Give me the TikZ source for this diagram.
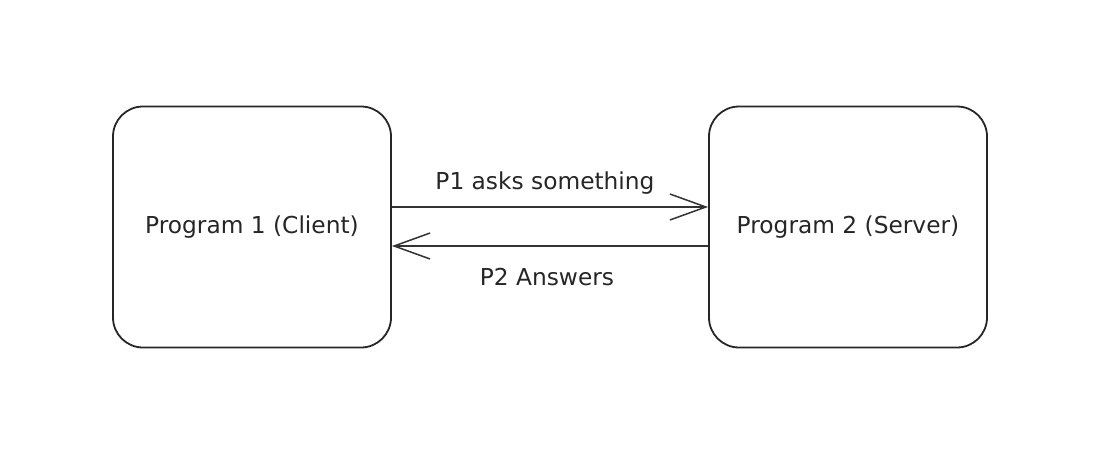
\documentclass[tikz,border=0pt]{standalone}
\usepackage{fontspec}
\setmainfont{DejaVu Sans}
\usetikzlibrary{arrows.meta}
\begin{document}
\begin{tikzpicture}[x=1pt,y=-1pt,
  prog/.style={draw=black!85,line width=1.8pt,rounded corners=30pt,minimum width=278pt,minimum height=241pt,inner sep=0pt,font=\fontsize{23.3}{28}\selectfont,text=black!85},
  conn/.style={draw=black!80,line width=1.7pt,-{Straight Barb[length=36pt,width=26pt,line width=1.5pt]}},
  lbl/.style={font=\fontsize{23.3}{28}\selectfont,text=black!85,inner sep=0pt}]
\useasboundingbox (0,0) rectangle (1120,466);
\node[prog] (c) at (252,227) {Program 1 (Client)};
\node[prog] (s) at (848,227) {Program 2 (Server)};
\draw[conn] (c.east |- 0,207) -- (s.west |- 0,207);
\draw[conn] (s.west |- 0,246) -- (c.east |- 0,246);
\node[lbl] (l1) at (545,183) {P1 asks something};
\node[lbl] (l2) at (547,277) {P2 Answers};
\end{tikzpicture}
\end{document}
